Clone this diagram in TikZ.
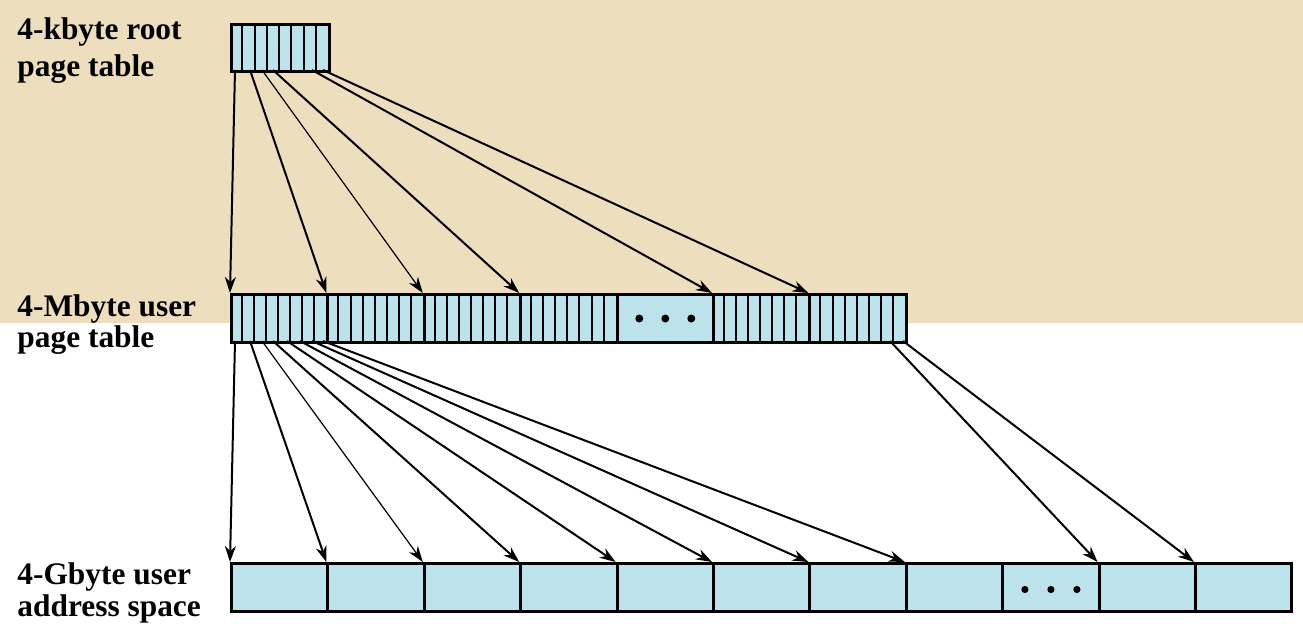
\documentclass[tikz,border=0pt]{standalone}
\usepackage{fontspec}
\setmainfont{Liberation Serif}
\usetikzlibrary{arrows.meta}
\definecolor{parchment}{RGB}{237,222,190}
\definecolor{cellblue}{RGB}{188,227,235}
\tikzset{
  block/.style={draw, line width=1.5pt, fill=cellblue, minimum width=48.2pt,
    minimum height=24pt, inner sep=0pt, anchor=north west},
  entry/.style={line width=1pt},
  ptr/.style={line width=1pt, -{Stealth[length=8pt,width=5.5pt]}},
  thinptr/.style={ptr, line width=0.6pt},
  caption/.style={anchor=north west, align=left, inner sep=0pt,
    font=\fontsize{15.7}{16}\selectfont\bfseries}
}
\begin{document}
\begin{tikzpicture}[x=0.5pt, y=-0.5pt]
\useasboundingbox (0,0) rectangle (1303,632);
\fill[parchment] (0,0) rectangle (1303,323);

% captions
\node[caption] (lroot) at (17,17) {4-kbyte root\\[2.5pt]page table};
\node[caption] (luser) at (17,294) {4-Mbyte user\\[-0.5pt]page table};
\node[caption] (laddr) at (17,562) {4-Gbyte user\\address space};

% root page table
\node[block, minimum width=49pt, minimum height=23.5pt] (root) at (230,23) {};
\foreach \k in {1,...,7}
  \draw[entry] ({230+\k*12.25},23) -- ++(0,47);

% user page table
\foreach \i in {1,...,7}
  \node[block] (m\i) at ({230+(\i-1)*96.4},293) {};
\foreach \i in {1,2,3,4,6,7}
  \foreach \k in {1,...,7}
    \draw[entry] ({230+(\i-1)*96.4+\k*12.05},293) -- ++(0,48);
\foreach \dx in {-13,0,13}
  \fill ([xshift=\dx pt]m5.center) circle (2pt);

% user address space
\foreach \i in {1,...,11}
  \node[block] (g\i) at ({230+(\i-1)*96.4},562) {};
\foreach \dx in {-13,0,13}
  \fill ([xshift=\dx pt, yshift=-1pt]g9.center) circle (1.8pt);

% root entries -> user page table
\foreach \x/\i in {235/1, 250/2, 262/3, 273/4, 312/6, 323/7}
  \coordinate (r\i) at (\x,70);
\foreach \i in {1,2,4,6,7}
  \draw[ptr] (r\i) -- (m\i.north west);
\draw[thinptr] (r3) -- (m3.north west);

% user page table entries -> address space
\foreach \x/\i in {235/1, 250/2, 262/3, 273/4, 287/5, 300/6, 312/7, 323/8}
  \coordinate (u\i) at (\x,341);
\coordinate (u10) at (890,341);
\coordinate (u11) at (903,341);
\foreach \i in {1,2,4,5,6,7,8,10,11}
  \draw[ptr] (u\i) -- (g\i.north west);
\draw[thinptr] (u3) -- (g3.north west);
\end{tikzpicture}
\end{document}
